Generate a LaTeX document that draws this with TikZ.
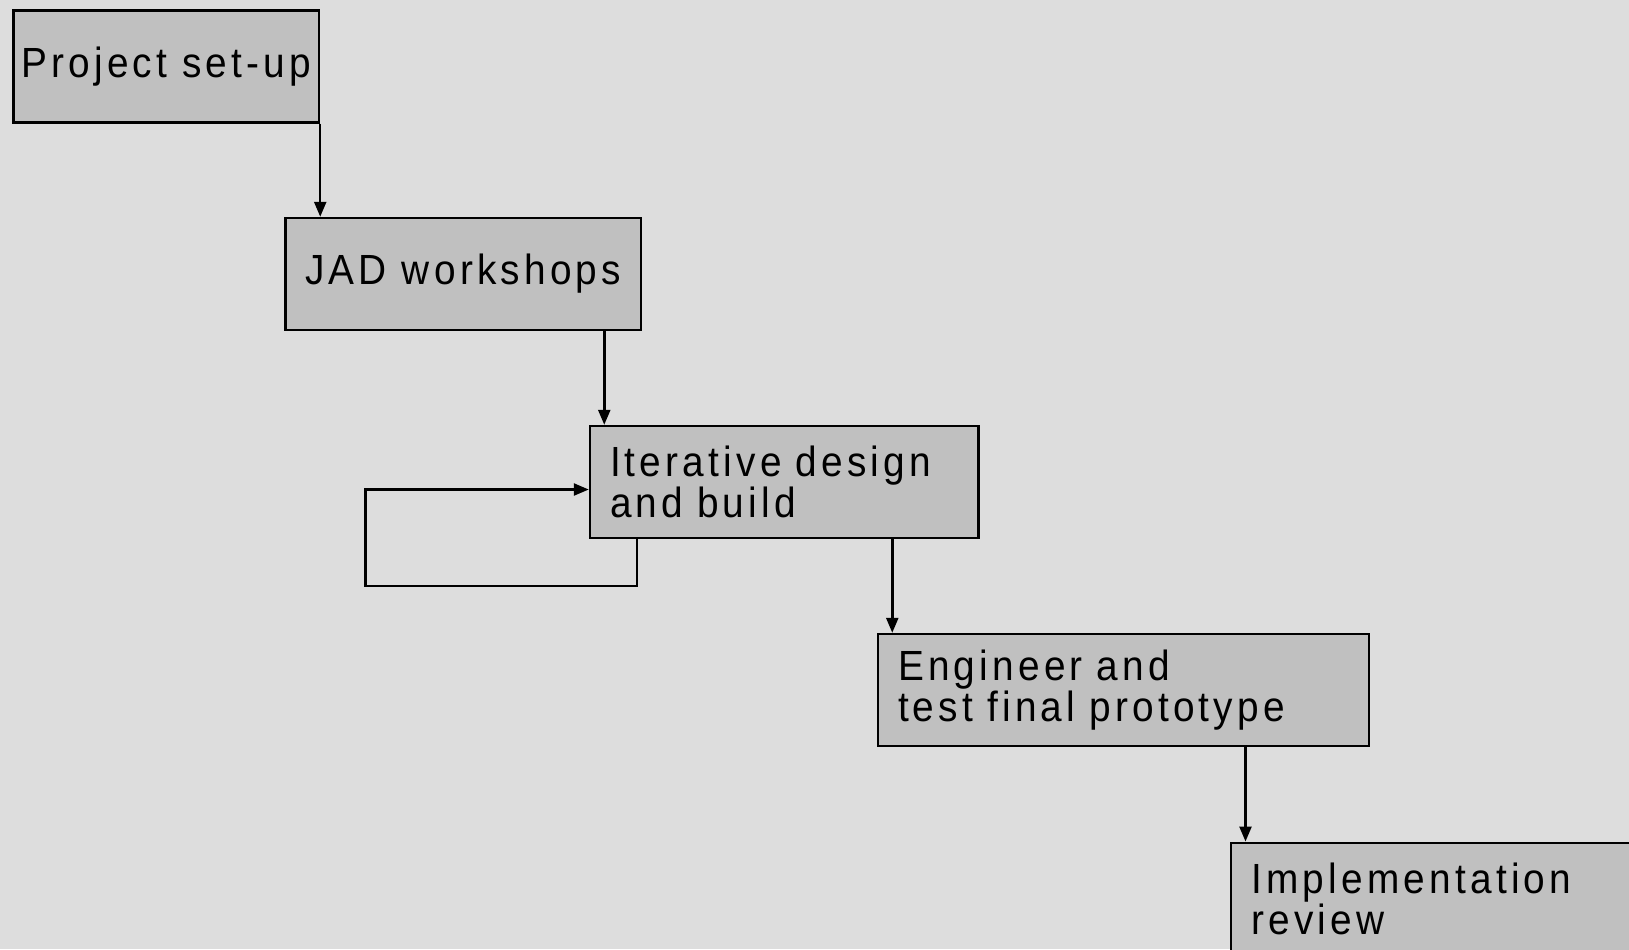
\documentclass[tikz,border=0pt]{standalone}
\usepackage{fontspec}
\setmainfont{Liberation Sans}[LetterSpace=10, FakeStretch=0.92]
\usepackage{tikz}
\usetikzlibrary{arrows.meta}
\usetikzlibrary{positioning}
\definecolor{backgr}{HTML}{DDDDDD}
\definecolor{boxgr}{HTML}{C0C0C0}
\tikzset{stage/.style = {draw, fill=boxgr, line width=1.4pt, inner sep=0, minimum height=2.24cm, font=\fontsize{24pt}{23.6pt}\selectfont}}
\tikzset{stagel/.style = {stage, inner xsep=0.4cm, align=left}}
\tikzset{flow/.style = {line width=1.4pt, -{Triangle[length=0.3cm, width=0.24cm]}}}

\begin{document}
\begin{tikzpicture}
      \fill [backgr] (0, 0) rectangle (32.58, -18.98);
      \useasboundingbox (0, 0) rectangle (32.58, -18.98);

      \node [stage, minimum width=6.11cm, align=center] (setup) at (3.325, -1.33) {Project set-up};
      \node [stage, minimum width=7.11cm, align=center] (jad) at (9.265, -5.48) {JAD workshops};
      \node [stagel, text width=6.97cm] (iter) at (15.685, -9.64) {Iterative design\\and build};
      \node [stagel, text width=9.02cm] (eng) at (22.47, -13.80) {Engineer and\\test final prototype};
      \node [stagel, text width=8.2cm, anchor=north west] (impl) at (24.6, -16.83) {Implementation\\review};

      \draw [flow] (setup.south east) -- (setup.south east |- jad.north);
      \draw [flow] ([xshift=0.31cm]iter.north west |- jad.south) -- ([xshift=0.31cm]iter.north west);
      \draw [flow] ([xshift=0.31cm]eng.north west |- iter.south) -- ([xshift=0.31cm]eng.north west);
      \draw [flow] ([xshift=0.31cm]impl.north west |- eng.south) -- ([xshift=0.31cm]impl.north west);

      \coordinate (loopa) at ([xshift=0.96cm]iter.south west);
      \coordinate (loopb) at (7.31, -11.72);
      \draw [flow] (loopa) |- (loopb) |- ([yshift=-0.15cm]iter.west);
    \end{tikzpicture}
\end{document}
